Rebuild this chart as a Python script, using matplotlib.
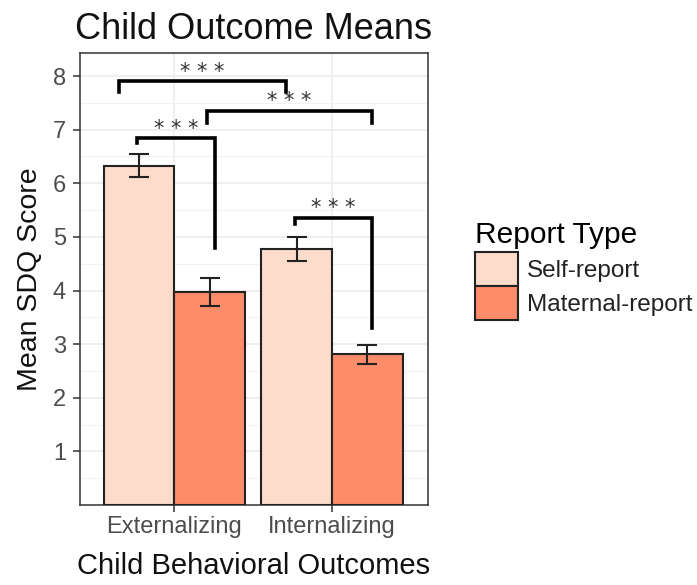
import matplotlib
matplotlib.use("Agg")
import matplotlib.pyplot as plt
from matplotlib.patches import Patch
import numpy as np

plt.rcParams['font.family'] = ['Liberation Sans', 'DejaVu Sans']

categories = ["Externalizing", "Internalizing"]
report_types = ["Self-report", "Maternal-report"]
means = {"Self-report": [6.33, 4.77], "Maternal-report": [3.97, 2.81]}
errors = {"Self-report": [0.21, 0.22], "Maternal-report": [0.26, 0.18]}
colors = {"Self-report": "#FEDCCB", "Maternal-report": "#FD8C6A"}

# significance brackets: x left, x right, bar height, left leg end, right leg end
brackets = [
    (0.65, 1.707, 7.90, 7.70, 7.70, "* * *"),
    (1.204, 2.255, 7.35, 7.12, 7.12, "* * *"),
    (0.764, 1.26, 6.84, 6.75, 4.80, "* * *"),
    (1.764, 2.255, 5.36, 5.25, 3.30, "* * *"),
]

W, H = 697, 585
fig = plt.figure(figsize=(W / 100, H / 100), dpi=100)
ax = fig.add_axes([80 / W, (H - 505) / H, (428 - 80) / W, (505 - 53) / H])

x = np.arange(1, len(categories) + 1)
bw = 0.45
offs = [-bw / 2, bw / 2]
for off, rt in zip(offs, report_types):
    ax.bar(x + off, means[rt], width=bw, color=colors[rt],
           edgecolor="#222222", linewidth=1.5, zorder=3)
    ax.errorbar(x + off, means[rt], yerr=errors[rt], fmt="none",
                ecolor="#222222", elinewidth=1.5, capsize=7, capthick=1.5,
                zorder=4)

for x1, x2, yb, yl, yr, lab in brackets:
    ax.plot([x1, x1, x2, x2], [yl, yb, yb, yr], color="black", lw=2.6,
            solid_joinstyle="miter", zorder=5)
    ax.text((x1 + x2) / 2, yb + 0.18, lab, ha="center", va="center",
            fontsize=15, color="#333333", family="DejaVu Sans", zorder=6)

ax.set_xlim(0.4, 2.61)
ax.set_ylim(0, 8.43)
ax.set_xticks(x)
ax.set_xticklabels(categories)
ax.set_yticks(np.arange(1, 9))
ax.set_yticks(np.arange(0.5, 8.5, 1), minor=True)
ax.set_xticks([], minor=True)

ax.grid(True, which="major", color="#EBEBEB", lw=1.1, zorder=0)
ax.grid(True, which="minor", axis="y", color="#F2F2F2", lw=0.7, zorder=0)
ax.set_axisbelow(True)
for s in ax.spines.values():
    s.set_color("#333333")
    s.set_linewidth(1.1)

ax.tick_params(axis="both", which="major", length=5, width=1.1,
               color="#333333", labelcolor="#4D4D4D", labelsize=17)
ax.tick_params(axis="x", pad=3)
ax.tick_params(axis="y", pad=5)
ax.tick_params(which="minor", length=0)

ax.set_xlabel("Child Behavioral Outcomes", fontsize=21, color="#111111", labelpad=10)
ax.set_ylabel("Mean SDQ Score", fontsize=20.5, color="#111111", labelpad=7)
ax.set_title("Child Outcome Means", fontsize=26, color="#111111", pad=10)

handles = [Patch(facecolor=colors[rt], edgecolor="#222222", linewidth=1.5)
           for rt in report_types]
leg = fig.legend(handles, report_types, title="Report Type",
                 loc="upper left", bbox_to_anchor=(475 / W, 1 - 221 / H),
                 frameon=False, fontsize=17.5, title_fontsize=21.5,
                 handlelength=1.77, handleheight=1.77, labelspacing=0.0,
                 handletextpad=0.37, borderaxespad=0, borderpad=0)
leg._legend_box.align = "left"
leg._legend_box.sep = 2.2
for t in leg.get_texts():
    t.set_color("#222222")

fig.savefig("out.png", dpi=100)
